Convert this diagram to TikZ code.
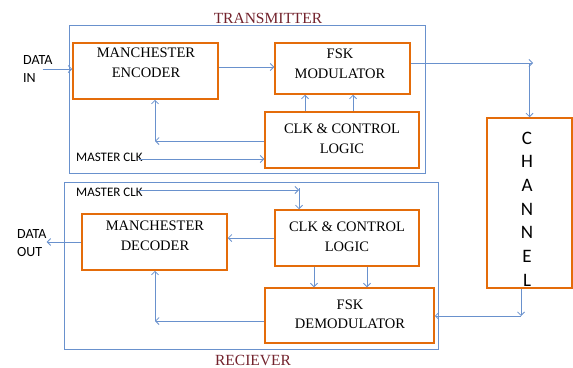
\documentclass[tikz,border=0pt]{standalone}
\usepackage{fontspec}
\setmainfont{Liberation Serif}
\newfontfamily\sidefont{Carlito}
\usepackage{tikz}
\usetikzlibrary{arrows.meta}

\definecolor{boxorange}{RGB}{228,108,10}
\definecolor{lineblue}{RGB}{105,145,205}
\definecolor{titlered}{RGB}{115,35,45}

\begin{document}
\begin{tikzpicture}[x=1pt, y=-1pt, >={Straight Barb[length=3.5pt,width=7pt]},
    box/.style={draw=boxorange, line width=1.5pt, inner sep=0pt},
    boxtext/.style={align=center, inner sep=0pt, font=\fontsize{14.5}{19.5}\selectfont},
    chantext/.style={align=center, inner sep=0pt, font=\sidefont\fontsize{19}{23.7}\selectfont},
    sidetext/.style={align=left, anchor=west, inner sep=0pt, font=\sidefont\fontsize{14}{18}\selectfont},
    clktext/.style={anchor=west, inner sep=0pt, font=\sidefont\fontsize{13}{15}\selectfont},
    title/.style={text=titlered, inner sep=0pt, font=\fontsize{15.5}{18}\selectfont},
    frame/.style={draw=lineblue, line width=0.9pt},
    link/.style={draw=lineblue, line width=0.8pt, ->}]
    \useasboundingbox (0,0) rectangle (573,367);

    \draw[frame] (69,25) rectangle (425,173);
    \draw[frame] (64,182) rectangle (438,349);
    \node[title] (txtitle) at (268,18) {TRANSMITTER};
    \node[title] (rxtitle) at (253,360) {RECIEVER};

    \node[box, minimum width=145pt, minimum height=56pt] (enc) at (145.5,71) {};
    \node[boxtext] (enctext) at (146,63) {MANCHESTER\\ENCODER};
    \node[box, minimum width=135pt, minimum height=51pt] (mod) at (342.5,68.5) {};
    \node[boxtext] (modtext) at (340,64) {FSK\\MODULATOR};
    \node[box, minimum width=154pt, minimum height=56pt] (txclk) at (342,140) {};
    \node[boxtext] (txclktext) at (342,138.5) {CLK \& CONTROL\\LOGIC};
    \node[box, minimum width=85pt, minimum height=170pt] (chan) at (529.5,203) {};
    \node[chantext] (chantext) at (527,209) {C\\H\\A\\N\\N\\E\\L};
    \node[box, minimum width=144pt, minimum height=56pt] (rxclk) at (347,238) {};
    \node[boxtext] (rxclktext) at (347,236.5) {CLK \& CONTROL\\LOGIC};
    \node[box, minimum width=145pt, minimum height=56pt] (dec) at (154.5,242) {};
    \node[boxtext] (dectext) at (155,236) {MANCHESTER\\DECODER};
    \node[box, minimum width=169pt, minimum height=55pt] (demod) at (349.5,315.5) {};
    \node[boxtext] (demodtext) at (350,314.5) {FSK\\DEMODULATOR};

    \node[sidetext] (datain) at (23,69) {DATA\\IN};
    \node[sidetext] (dataout) at (17,243) {DATA\\OUT};
    \node[clktext] (txmclk) at (76,157) {MASTER CLK};
    \node[clktext] (rxmclk) at (76,192) {MASTER CLK};

    \draw[link] ([xshift=-10pt]datain.east) -- (datain.east -| enc.west);
    \draw[link] (enc.east |- 0,67) -- (mod.west |- 0,67);
    \foreach \x in {305,353}
        \draw[link] (txclk.north -| \x,0) -- (mod.south -| \x,0);
    \coordinate (txfb) at (155,141);
    \draw[link] (txclk.west |- txfb) -- (txfb);
    \draw[link] (txfb) -- (txfb |- enc.south);
    \draw[link] ([xshift=-4pt]txmclk.east |- 0,159) -- (txclk.west |- 0,159);

    \coordinate (modout) at (533,63);
    \draw[link] (mod.east |- modout) -- (modout);
    \draw[link] (chan.north |- modout) -- (chan.north);

    \coordinate (rxclkin) at (299,190);
    \draw[link] ([xshift=-4pt]rxmclk.east |- rxclkin) -- (rxclkin);
    \draw[link] ([yshift=2pt]rxclkin) -- (rxclkin |- rxclk.north);
    \draw[link] (rxclk.west |- 0,238) -- (dec.east |- 0,238);
    \draw[link] (dec.west) -- (dec.west -| dataout.east);
    \foreach \x in {314,367}
        \draw[link] (rxclk.south -| \x,0) -- (demod.north -| \x,0);
    \coordinate (rxfb) at (155,321);
    \draw[link] (demod.west |- rxfb) -- (rxfb);
    \draw[link] (rxfb) -- (rxfb |- dec.south);

    \coordinate (chanout) at (521,316);
    \draw[link] (chanout |- chan.south) -- (chanout);
    \draw[link] (chanout) -- (demod.east |- chanout);
\end{tikzpicture}
\end{document}
